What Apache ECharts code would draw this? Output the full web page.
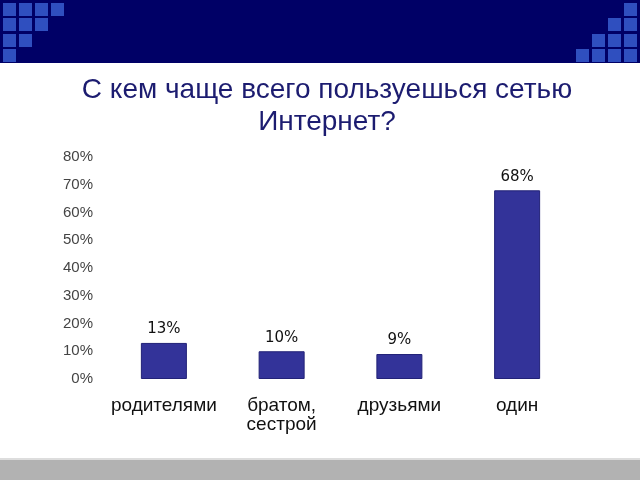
<!DOCTYPE html>
<html><head><meta charset="utf-8">
<script src="https://cdn.jsdelivr.net/npm/echarts@6/dist/echarts.min.js"></script>
<style>html,body{margin:0;padding:0;background:#fff}#c{width:640px;height:480px}</style>
</head><body><div id="c"></div>
<script>
var titleText = 'С кем чаще всего пользуешься сетью\nИнтернет?';
var categories = ['родителями', 'братом,\nсестрой', 'друзьями', 'один'];
var values = [13, 10, 9, 68];
var yTicks = [0, 10, 20, 30, 40, 50, 60, 70, 80];

var deco = [];
deco.push({type:'rect', left:0, top:0, shape:{width:640,height:63}, style:{fill:'#000066'}, silent:true});
var sq = '#2f4fbf';
var xsL = [3, 19, 35, 51], ys = [3, 18, 34, 49];
var leftCounts = [4, 3, 2, 1];
var xsR = [576, 592, 608, 624];
var rightCounts = [1, 2, 3, 4];
for (var r = 0; r < 4; r++) {
  for (var i = 0; i < leftCounts[r]; i++)
    deco.push({type:'rect', left:xsL[i], top:ys[r], shape:{width:13,height:13}, style:{fill:sq}, silent:true});
  for (var j = 4 - rightCounts[r]; j < 4; j++)
    deco.push({type:'rect', left:xsR[j], top:ys[r], shape:{width:13,height:13}, style:{fill:sq}, silent:true});
}
deco.push({type:'rect', left:0, top:458, shape:{width:640,height:2}, style:{fill:'#dddddd'}, silent:true});
deco.push({type:'rect', left:0, top:460, shape:{width:640,height:20}, style:{fill:'#b2b2b2'}, silent:true});

var chart = echarts.init(document.getElementById('c'));
chart.setOption({
  animation: false,
  graphic: deco,
  title: {
    text: titleText, left: 322, top: 69, textAlign: 'center',
    textStyle: {fontFamily: 'Liberation Sans', fontSize: 28, fontWeight: 'normal', color: '#1c1c70', lineHeight: 32, align: 'center'}
  },
  grid: {left: 105, right: 64, top: 157, bottom: 101},
  xAxis: {
    type: 'category', data: categories,
    axisLine: {show: false}, axisTick: {show: false},
    axisLabel: {interval: 0, fontFamily: 'Liberation Sans', fontSize: 19, color: '#111', margin: 17, lineHeight: 19}
  },
  yAxis: {
    type: 'value', min: 0, max: 80, interval: 10,
    splitLine: {show: false}, axisLine: {show: false}, axisTick: {show: false},
    axisLabel: {fontFamily: 'Liberation Sans', fontSize: 15, color: '#444', margin: 12, formatter: '{value}%'}
  },
  series: [{
    type: 'bar', data: values, barWidth: 46,
    itemStyle: {color: '#333399', borderColor: '#222277', borderWidth: 1},
    label: {show: true, position: 'top', distance: 6, formatter: '{c}%', fontFamily: 'DejaVu Sans', fontSize: 15, color: '#111'}
  }]
});
</script></body></html>
